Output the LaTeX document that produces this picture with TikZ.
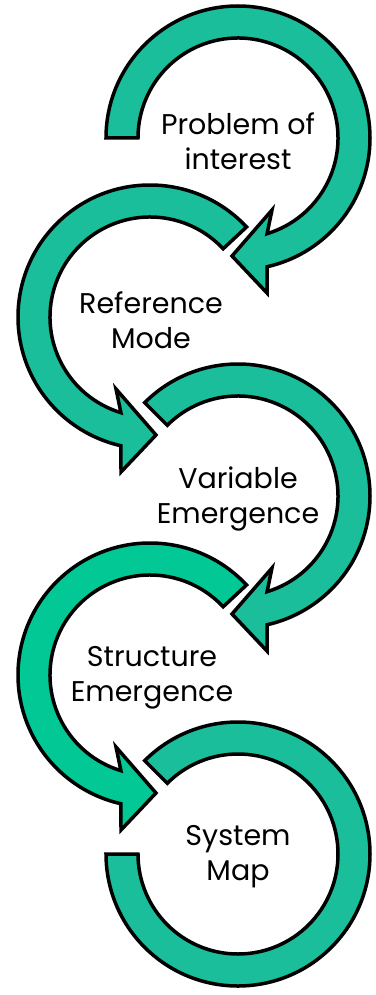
\documentclass[tikz,border=0pt]{standalone}
\usepackage{fontspec}
\setmainfont{Poppins}
\definecolor{teal1}{RGB}{26,190,155}
\definecolor{teal2}{RGB}{2,200,150}
\begin{document}
\begin{tikzpicture}[x=1pt,y=-1pt,
  ring/.style={draw=black,line width=3.5pt,line join=miter,miter limit=10,fill=#1},
  lbl/.style={align=center,font=\fontsize{28.5}{35}\selectfont,inner sep=0pt}]
\useasboundingbox (0,0) rectangle (375,995);
% arrowed ring in the frame of its centre; tail angle #1
\newcommand{\headring}[1]{%
  (#1:132) arc[start angle=#1, end angle=437.3, radius=132]
  -- (29,155) -- (-6,118) -- (34,72) -- (433.1:100)
  arc[start angle=433.1, end angle=#1, radius=100] -- cycle}
% 1: Problem of interest
\begin{scope}[shift={(238,138)}]
  \draw[ring=teal1] \headring{180};
\end{scope}
% 2: Reference Mode (mirrored)
\begin{scope}[shift={(150,317)},xscale=-1]
  \draw[ring=teal1] \headring{223};
\end{scope}
% 3: Variable Emergence
\begin{scope}[shift={(238,496)}]
  \draw[ring=teal1] \headring{225};
\end{scope}
% 4: Structure Emergence (mirrored)
\begin{scope}[shift={(150,675)},xscale=-1]
  \draw[ring=teal2] \headring{223};
\end{scope}
% 5: System Map
\begin{scope}[shift={(238,854)}]
  \draw[ring=teal1] (225:132) arc[start angle=225, end angle=540, radius=132]
    -- (540:100) arc[start angle=540, end angle=225, radius=100] -- cycle;
\end{scope}
\node[lbl] (p1) at (238,141) {Problem of\\interest};
\node[lbl] (p2) at (151,320) {Reference\\Mode};
\node[lbl] (p3) at (238,499) {Variable\\Emergence};
\node[lbl] (p4) at (152,678) {Structure\\Emergence};
\node[lbl] (p5) at (238,857) {System\\Map};
\end{tikzpicture}
\end{document}
